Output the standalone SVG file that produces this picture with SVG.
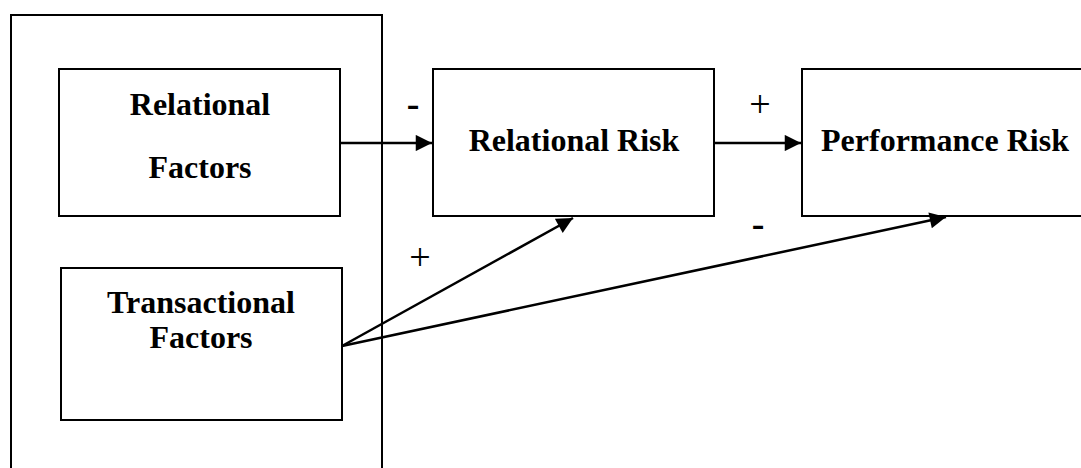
<svg xmlns="http://www.w3.org/2000/svg" width="1081" height="468" viewBox="0 0 1081 468">
  <style>
    .box { fill: #fff; stroke: #000; stroke-width: 2; }
    .label { font-family: "Liberation Serif", "Times New Roman", serif; font-weight: bold; font-size: 32px; fill: #000; text-anchor: middle; }
    .sign { font-family: "Liberation Serif", "Times New Roman", serif; font-size: 38px; fill: #000; text-anchor: middle; }
    .sign-b { font-family: "Liberation Serif", "Times New Roman", serif; font-weight: bold; font-size: 38px; fill: #000; text-anchor: middle; }
    .conn { stroke: #000; stroke-width: 2.5; fill: none; marker-end: url(#arrow); }
  </style>
  <defs>
    <marker id="arrow" viewBox="0 0 10 10" refX="10" refY="5" markerWidth="8" markerHeight="6.5" markerUnits="strokeWidth" orient="auto">
      <path d="M0,0 L10,5 L0,10 Z" fill="#000"/>
    </marker>
  </defs>
  <rect width="1081" height="468" fill="#fff"/>

  <!-- antecedent frame -->
  <g id="frame">
    <rect class="box" x="11" y="15" width="371" height="470"/>
  </g>

  <g id="relational-factors">
    <rect class="box" x="59" y="69" width="281" height="147"/>
    <text class="label" x="200" y="115">Relational</text>
    <text class="label" x="200" y="178">Factors</text>
  </g>

  <g id="transactional-factors">
    <rect class="box" x="61" y="268" width="281" height="152"/>
    <text class="label" x="201" y="313">Transactional</text>
    <text class="label" x="201" y="348">Factors</text>
  </g>

  <g id="relational-risk">
    <rect class="box" x="433" y="69" width="281" height="147"/>
    <text class="label" x="574" y="151">Relational Risk</text>
  </g>

  <g id="performance-risk">
    <rect class="box" x="802" y="69" width="290" height="147"/>
    <text class="label" x="945" y="151">Performance Risk</text>
  </g>

  <g id="connectors">
    <line class="conn" x1="340" y1="143" x2="432" y2="143"/>
    <line class="conn" x1="714" y1="143" x2="801" y2="143"/>
    <line class="conn" x1="342" y1="346" x2="573" y2="218"/>
    <line class="conn" x1="342" y1="346" x2="946" y2="217"/>
    <text class="sign-b" x="413" y="116">-</text>
    <text class="sign" x="760" y="117">+</text>
    <text class="sign-b" x="758" y="236">-</text>
    <text class="sign" x="420" y="270">+</text>
  </g>
</svg>
